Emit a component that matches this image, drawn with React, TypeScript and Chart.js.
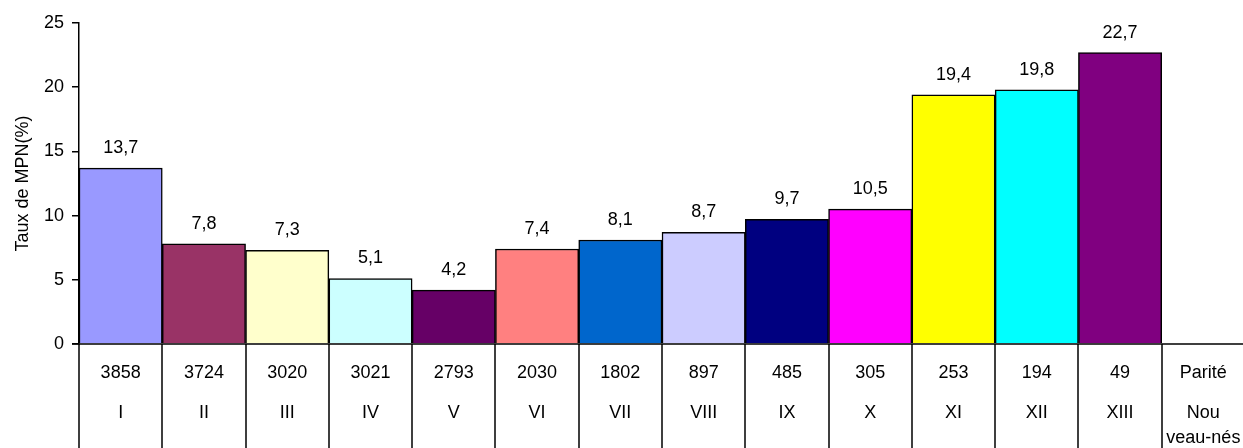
import React, { useEffect, useRef } from "react";
import { Chart, registerables } from "chart.js";

Chart.register(...registerables);

const romans: string[] = ["I", "II", "III", "IV", "V", "VI", "VII", "VIII", "IX", "X", "XI", "XII", "XIII", "Nou\nveau-nés"];
const counts: string[] = ["3858", "3724", "3020", "3021", "2793", "2030", "1802", "897", "485", "305", "253", "194", "49", "Parité"];
const rates: (number | null)[] = [13.7, 7.8, 7.3, 5.1, 4.2, 7.4, 8.1, 8.7, 9.7, 10.5, 19.4, 19.8, 22.7, null];
const colors: string[] = ["#9999FF", "#993366", "#FFFFCC", "#CCFFFF", "#660066", "#FF8080", "#0066CC", "#CCCCFF", "#000080", "#FF00FF", "#FFFF00", "#00FFFF", "#800080", "#FFFFFF"];
const yTicks = { min: 0, max: 25, step: 5 };

const FONT = "Liberation Sans, Arial, sans-serif";
const FS = 18;

const valueLabels = {
  id: "valueLabels",
  afterDatasetsDraw(chart: any) {
    const ctx = chart.ctx;
    const meta = chart.getDatasetMeta(0);
    ctx.save();
    ctx.fillStyle = "#000";
    ctx.font = `${FS}px ${FONT}`;
    ctx.textAlign = "center";
    ctx.textBaseline = "middle";
    meta.data.forEach((el: any, i: number) => {
      const v = rates[i];
      if (v == null) return;
      ctx.fillText(v.toFixed(1).replace(".", ","), el.x, el.y - 20);
    });
    ctx.restore();
  },
};

const dataTable = {
  id: "dataTable",
  afterDraw(chart: any) {
    const ctx = chart.ctx;
    const xs = chart.scales.x;
    const { left, right, bottom } = chart.chartArea;
    const n = counts.length;
    const w = (right - left) / n;
    const H = chart.height;
    ctx.save();
    ctx.strokeStyle = "#000";
    ctx.lineWidth = 1.5;
    ctx.beginPath();
    ctx.moveTo(left - 7, Math.round(bottom));
    ctx.lineTo(right, Math.round(bottom));
    for (let k = 0; k <= n; k++) {
      const x = Math.round(xs.getPixelForValue(Math.min(k, n - 1)) + (k === n ? w / 2 : -w / 2));
      ctx.moveTo(x, bottom);
      ctx.lineTo(x, H);
    }
    ctx.stroke();
    ctx.fillStyle = "#000";
    ctx.font = `${FS}px ${FONT}`;
    ctx.textAlign = "center";
    ctx.textBaseline = "middle";
    for (let i = 0; i < n; i++) {
      const cx = xs.getPixelForValue(i);
      ctx.fillText(counts[i], cx, bottom + 29);
      const lines = romans[i].split("\n");
      lines.forEach((ln, j) => ctx.fillText(ln, cx, bottom + 69 + j * 25));
    }
    ctx.restore();
  },
};

export default function App() {
  const ref = useRef<HTMLCanvasElement>(null);
  useEffect(() => {
    const chart = new Chart(ref.current!, {
      type: "bar",
      data: {
        labels: romans.map((r, i) => counts[i] + " " + r),
        datasets: [
          {
            data: rates as any,
            backgroundColor: colors,
            borderColor: "#000",
            borderWidth: 1.5,
            borderSkipped: "bottom",
            categoryPercentage: 1,
            barPercentage: 1,
          },
        ],
      },
      options: {
        animation: false,
        responsive: false,
        devicePixelRatio: 1,
        layout: { padding: { top: 23, right: 0, bottom: 104, left: 0 } },
        plugins: { legend: { display: false }, tooltip: { enabled: false } },
        scales: {
          x: { display: false, offset: true },
          y: {
            min: yTicks.min,
            max: yTicks.max,
            ticks: { stepSize: yTicks.step, color: "#000", font: { family: FONT, size: FS }, padding: 8 },
            grid: { drawOnChartArea: false, drawTicks: true, tickLength: 7, color: "#000", lineWidth: 1.5 },
            border: { color: "#000", width: 1.5 },
            title: { display: true, text: "Taux de MPN(%)", color: "#000", font: { family: FONT, size: FS }, padding: { top: 12, bottom: 0 } },
            afterFit(scale: any) {
              scale.width = 79;
            },
          },
        },
      },
      plugins: [valueLabels, dataTable],
    });
    return () => chart.destroy();
  }, []);
  return (
    <div style={{ position: "fixed", left: 0, top: 0, width: 1245, height: 448, background: "#fff" }}>
      <canvas ref={ref} width={1245} height={448} style={{ width: 1245, height: 448 }} />
    </div>
  );
}
